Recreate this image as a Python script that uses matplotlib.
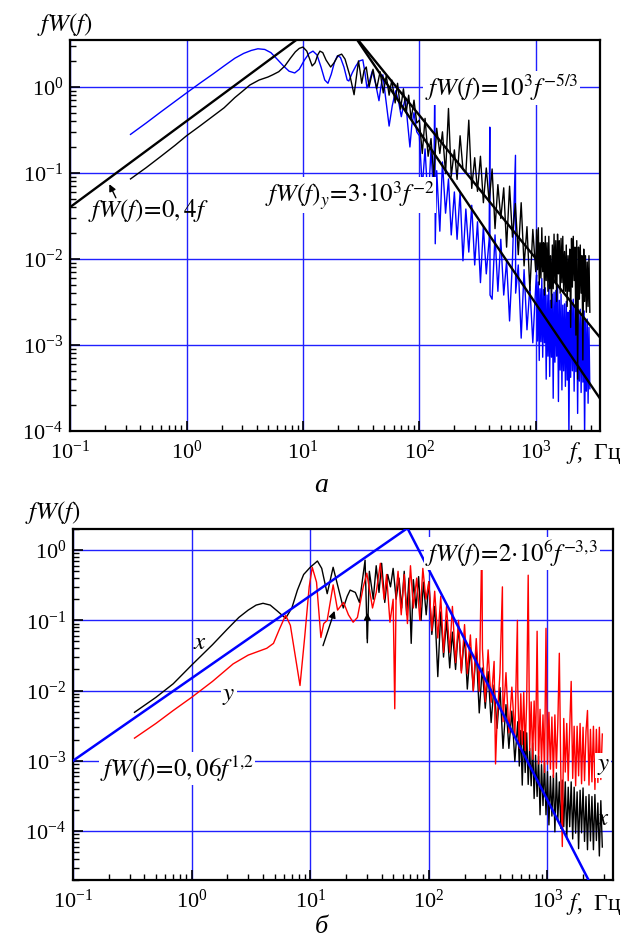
import matplotlib
matplotlib.use("Agg")
import matplotlib.pyplot as plt

plt.rcParams['font.family'] = ['Liberation Serif', 'DejaVu Serif']
plt.rcParams['mathtext.fontset'] = 'stix'

OUTPUT_IMAGE = "out.png"

# ---- panel (a): spectra ----
top_black_f = [0.33, 0.45, 0.6, 0.8, 1.0, 1.3, 1.7, 2.1, 2.6, 3.0, 3.5, 4.2, 5.0, 5.5, 6.2, 7.0, 7.8, 8.6, 9.3, 10,
               10.8, 11.5, 12, 12.7, 13.4, 14, 14.8, 15.8, 17.3, 18.5, 20, 21.5, 23, 25.5, 27.5, 28.8, 30, 31, 32, 33.5,
               35, 37, 40, 43, 46, 49, 52, 55, 58, 62, 65, 69, 73, 77, 81, 85, 90, 95,
               100, 106, 112, 119, 126, 133, 141, 150, 158, 168, 178, 188, 200, 211, 224, 237, 251, 266, 282, 299,
               316, 335, 355, 376, 398, 422, 447, 473, 501, 531, 562, 596, 631, 668, 708, 750, 794, 841, 891, 944, 1000]
top_black_y = [0.085, 0.115, 0.155, 0.21, 0.27, 0.35, 0.46, 0.57, 0.75, 0.88, 1.05, 1.2, 1.3, 1.38, 1.5, 1.75, 2.15,
               2.55, 2.8, 2.9, 2.6, 2.05, 1.75, 1.9, 2.35, 2.6, 2.5, 2.05, 1.7, 1.9, 2.3, 2.4, 2.1, 1.3, 0.81, 1.3, 2.0,
               1.5, 1.1, 1.55,
               1.7, 1.0, 1.6, 0.95, 1.5, 0.85, 1.35, 0.8, 1.2, 0.65, 1.1, 0.55, 0.95, 0.5, 0.8, 0.42, 0.7, 0.38,
               0.41, 0.168, 0.43, 0.156, 0.25, 0.091, 0.33, 0.168, 0.30, 0.098, 0.56, 0.091, 0.185, 0.084, 0.27, 0.11,
               0.10, 0.41, 0.066, 0.15, 0.061, 0.156, 0.045, 0.114, 0.046, 0.111, 0.0225, 0.073, 0.0295, 0.067, 0.0137,
               0.07, 0.0179, 0.044, 0.0112, 0.045, 0.0083, 0.0237, 0.0043, 0.022, 0.0071]

top_blue_f = [0.33, 0.45, 0.6, 0.8, 1.0, 1.3, 1.7, 2.1, 2.6, 3.1, 3.6, 4.1, 4.7, 5.3, 6.0, 6.8, 7.6, 8.5, 9.3, 10.3,
              11.3, 12.2, 13.2, 14.3, 15.4, 16.4, 17.5, 18.7, 19.8, 21, 22.5, 24, 24.8, 26.5, 28.5, 30.5, 32.7, 34,
              35.5, 37.5, 39.5, 42, 45, 46.5, 48.6, 51, 55, 58.5, 62.5, 66, 70, 73, 76, 79, 83, 86, 90, 95,
              100, 106, 112, 119, 126, 133, 136, 137, 141, 150, 158, 168, 178, 188, 200, 211, 224, 237, 251, 266, 282,
              299, 316, 335, 355, 376, 398, 403, 405, 422, 447, 473, 501, 531, 562, 596, 631, 670, 672, 708, 750, 794,
              841, 891, 944, 1000]
top_blue_y = [0.28, 0.38, 0.51, 0.68, 0.85, 1.1, 1.42, 1.75, 2.15, 2.45, 2.65, 2.77, 2.72, 2.5, 2.1, 1.75, 1.52, 1.45,
              1.6, 2.05, 2.45, 2.6, 2.35, 1.7, 1.2, 1.1, 1.4, 1.95, 2.3, 2.2, 1.7, 1.2, 1.17, 1.45, 1.75, 2.0, 2.06,
              1.5, 0.97, 1.2, 1.53, 1.1, 0.69, 0.95, 1.38, 0.8, 0.35, 0.6, 0.9, 0.7, 0.45, 0.6, 0.75, 0.4, 0.2, 0.35,
              0.5, 0.3,
              0.27, 0.067, 0.19, 0.042, 0.19, 0.048, 1.45, 0.015, 0.106, 0.021, 0.134, 0.034, 0.085, 0.019, 0.06,
              0.0169, 0.06, 0.0095, 0.038, 0.012, 0.042, 0.0085, 0.027, 0.0053, 0.024, 0.0067, 0.0169, 0.34, 0.0038,
              0.0034, 0.019, 0.0042, 0.0169, 0.0038, 0.0095, 0.0019, 0.0095, 0.16, 0.004, 0.0085, 0.0012, 0.0075,
              0.0015, 0.0048, 0.00106, 0.0048]

# dense high-frequency part of panel (a), 1-3 kHz
tail_a_f = [1017, 1035, 1053, 1072, 1090, 1109, 1128, 1148, 1168, 1189,
            1209, 1230, 1252, 1274, 1296, 1318, 1341, 1365, 1389, 1413,
            1437, 1462, 1488, 1514, 1540, 1567, 1594, 1622, 1650, 1679,
            1708, 1738, 1768, 1799, 1830, 1862, 1895, 1928, 1961, 1995,
            2030, 2065, 2101, 2138, 2175, 2213, 2252, 2291, 2331, 2371,
            2413, 2455, 2497, 2541, 2585, 2630, 2676, 2723, 2770, 2818,
            2867, 2917]
top_black_tail = [0.0218, 0.0075, 0.023, 0.005, 0.0154, 0.006, 0.023, 0.0071, 0.0154, 0.0038,
                  0.0183, 0.0056, 0.0154, 0.0042, 0.0183, 0.0045, 0.0109, 0.0027, 0.0145, 0.0045,
                  0.0194, 0.0053, 0.0163, 0.0032, 0.0194, 0.0067, 0.0163, 0.004, 0.0173, 0.0053,
                  0.0183, 0.004, 0.0122, 0.0042, 0.0145, 0.0028, 0.0109, 0.0042, 0.013, 0.0016,
                  0.0173, 0.0047, 0.0183, 0.0056, 0.0137, 0.0013, 0.0163, 0.0004, 0.0137, 0.0034,
                  0.0145, 0.004, 0.0109, 0.00067, 0.013, 0.0032, 0.0109, 0.0024, 0.0092, 0.0028,
                  0.0109, 0.0024]
top_blue_tail = [0.0065, 0.00111, 0.0054, 0.00066, 0.0045, 0.00109, 0.0059, 0.00072, 0.0044, 0.00106,
                 0.0046, 0.0004, 0.0038, 0.00074, 0.005, 0.00043, 0.0033, 0.00072, 0.0039, 0.00024,
                 0.0041, 0.00063, 0.0043, 0.00074, 0.005, 0.00022, 0.0033, 0.00051, 0.0039, 0.0003,
                 0.0029, 0.0005, 0.003, 0.00033, 0.0032, 0.00039, 0.0024, 0.00009, 0.0025, 0.00042,
                 0.0033, 0.0005, 0.0034, 0.00029, 0.0028, 0.00049, 0.0033, 0.00016, 0.0025, 0.00038,
                 0.0026, 0.00028, 0.0021, 0.00037, 0.0025, 0.00008, 0.0019, 0.00029, 0.002, 0.00021,
                 0.0016, 0.00031]

# fitted power laws (end points as drawn)
fit_04f_f, fit_04f_y = [0.1, 8.75], [0.04, 3.5]
fit_53_f, fit_53_y = [29.8, 3550], [3.5, 0.00123]
fit_2_f, fit_2_y = [29.3, 3550], [3.5, 0.00024]

# ---- panel (б) ----
bot_x_f = [0.33, 0.5, 0.7, 1.0, 1.5, 2.0, 2.5, 3.0, 3.5, 4.0, 4.6, 5.3, 6.2, 7.0, 7.8, 8.8, 10, 11.5, 12.5, 13.9,
           15.6, 17, 19, 20.5, 21.7, 24, 26, 29, 30.3, 31.5,
           34, 36, 38, 40, 42.5, 45, 47.5, 50, 53, 56, 59, 62, 65, 68, 71, 74, 78, 82, 86, 90, 95,
           100, 106, 112, 119, 126, 133, 141, 150, 158, 168, 178, 188, 200, 211, 224, 237, 251, 266, 282, 299,
           316, 335, 355, 376, 398, 422, 447, 473, 501, 531]
bot_x_y = [0.0049, 0.008, 0.0125, 0.023, 0.045, 0.075, 0.11, 0.14, 0.165, 0.175, 0.165, 0.135, 0.107, 0.15, 0.27,
           0.45, 0.57, 0.7, 0.55, 0.24, 0.57, 0.32, 0.15, 0.22, 0.27, 0.25, 0.18, 0.72, 0.048, 0.5,
           0.2, 0.6, 0.25, 0.65, 0.18, 0.45, 0.3, 0.55, 0.2, 0.4, 0.15, 0.5, 0.12, 0.4, 0.047, 0.38, 0.15, 0.42, 0.1,
           0.35, 0.12,
           0.355, 0.063, 0.158, 0.0158, 0.132, 0.03, 0.1, 0.021, 0.068, 0.02, 0.083, 0.019, 0.06, 0.0105, 0.041, 0.01,
           0.039, 0.0048, 0.021, 0.0056, 0.0186, 0.0035, 0.012, 0.0029, 0.011, 0.0015, 0.0063, 0.0015, 0.0051,
           0.00098]

bot_y_f = [0.33, 0.5, 0.7, 1.0, 1.5, 2.24, 3.0, 4.3, 4.9, 5.5, 6.2, 6.8, 7.5, 8.2, 9.0, 9.8, 10.4, 11.3, 12.3, 13.0,
           13.9, 15.6, 17, 19.1, 21, 23, 25, 28, 30, 33.5, 36, 39, 42, 44, 47, 50, 51.6, 53,
           55, 58.5, 62, 66, 70, 74, 79, 84, 89, 94.5,
           100, 106, 112, 119, 126, 133, 141, 150, 158, 168, 178, 188, 200, 211, 224, 237, 251, 266, 280, 283, 299,
           316, 335, 355, 365, 376, 398, 417, 422, 447, 473, 501, 531, 558]
bot_y_y = [0.0021, 0.0034, 0.0052, 0.008, 0.0135, 0.024, 0.032, 0.04, 0.047, 0.075, 0.118, 0.085, 0.03, 0.0118, 0.06,
           0.3, 0.57, 0.35, 0.057, 0.09, 0.1, 0.32, 0.14, 0.18, 0.12, 0.094, 0.11, 0.3, 0.47, 0.15, 0.25, 0.65, 0.2,
           0.45, 0.094, 0.2, 0.0055, 0.25,
           0.5, 0.12, 0.45, 0.09, 0.6, 0.15, 0.4, 0.1, 0.55, 0.2,
           0.355, 0.071, 0.26, 0.056, 0.22, 0.035, 0.158, 0.035, 0.158, 0.025, 0.1, 0.0178, 0.087, 0.0174, 0.062,
           0.0098, 0.055, 0.0098, 1.5, 0.039, 0.0069, 0.038, 0.0068, 0.026, 0.0009, 0.0037, 0.018, 0.3, 0.0036,
           0.018, 0.0025, 0.0112, 0.0022, 0.1]

# dense high-frequency part of panel (б), 0.56-2.9 kHz
tail_b_f = [562, 579, 596, 613, 631, 649, 668, 688, 708, 729,
            750, 772, 794, 818, 841, 866, 891, 917, 944, 972,
            1000, 1029, 1059, 1090, 1122, 1155, 1189, 1223, 1259, 1296,
            1334, 1372, 1413, 1454, 1496, 1540, 1585, 1632, 1679, 1728,
            1778, 1830, 1884, 1939, 1995, 2054, 2113, 2175, 2239, 2304,
            2371, 2441, 2512, 2585, 2661, 2738, 2818, 2900]
bot_y_tail = [0.011, 0.0015, 0.009, 0.0017, 0.0094, 0.0014, 0.0069, 0.44, 0.0014, 0.0069,
              0.00105, 0.0071, 0.0014, 0.07, 0.0009, 0.0054, 0.00093, 0.0045, 0.00068, 0.077,
              0.00089, 0.0049, 0.00076, 0.0042, 0.00058, 0.0045, 0.00078, 0.0034, 0.034, 0.00065,
              0.00006, 0.004, 0.00069, 0.0034, 0.00052, 0.0029, 0.0135, 0.00056, 0.0031, 0.00044,
              0.0031, 0.00061, 0.0034, 0.00047, 0.003, 0.00052, 0.0026, 0.0052, 0.00045, 0.0028,
              0.0005, 0.0031, 0.00039, 0.0028, 0.00049, 0.003, 0.00054, 0.0024]
bot_x_tail = [0.0036, 0.00084, 0.0027, 0.00045, 0.0026, 0.00068, 0.0025, 0.00046, 0.0015, 0.00044,
              0.0018, 0.00029, 0.0012, 0.00031, 0.00116, 0.00017, 0.00088, 0.00023, 0.00094, 0.00017,
              0.0007, 0.000122, 0.0006, 0.000163, 0.00063, 0.000097, 0.00067, 0.000145, 0.0005, 0.000109,
              0.00053, 0.000115, 0.0005, 0.000077, 0.00042, 0.000115, 0.0005, 0.000077, 0.00042, 0.000093,
              0.00036, 0.000056, 0.00038, 0.000094, 0.00041, 0.000071, 0.00031, 0.000054, 0.00033, 0.000072,
              0.00031, 0.000054, 0.00033, 0.000073, 0.00025, 0.000044, 0.00027, 0.000059]

# broken power law: 0,06 f^1,2 up to the corner, then 2*10^6 f^-3,3
fit_b_f, fit_b_y = [0.1, 66, 2220], [0.001, 2.06, 0.00002]

BLUE = '#0000ff'
GRID = '#2020ff'
LABEL_BOX = dict(facecolor='white', edgecolor='none', pad=1.0)


def style_axes(ax, xlim, ylim):
    ax.set_xscale('log')
    ax.set_yscale('log')
    ax.set_xlim(*xlim)
    ax.set_ylim(*ylim)
    ax.set_axisbelow(True)
    ax.grid(True, which='major', color=GRID, lw=1.0)
    ax.tick_params(which='both', direction='in', top=False, right=False, labelsize=16)
    ax.tick_params(which='major', length=7, width=1.2, pad=5)
    ax.tick_params(axis='x', which='major', pad=7)
    ax.tick_params(which='minor', length=4, width=1.0)
    for sp in ax.spines.values():
        sp.set_linewidth(1.6)


fig = plt.figure(figsize=(6.32, 9.42), dpi=100)

# ---------- panel a ----------
ax1 = fig.add_axes([0.111, 0.5425, 0.838, 0.415])
style_axes(ax1, (0.1, 3550), (1e-4, 3.5))
ax1.plot(top_blue_f + tail_a_f, top_blue_y + top_blue_tail, color=BLUE, lw=1.0, zorder=2)
ax1.plot(top_black_f + tail_a_f, top_black_y + top_black_tail, color='black', lw=1.0, zorder=3)
for fx, fy in [(fit_04f_f, fit_04f_y), (fit_53_f, fit_53_y), (fit_2_f, fit_2_y)]:
    ax1.plot(fx, fy, color='black', lw=1.7, zorder=4)

ax1.text(0.143, 0.037, r'$fW(f)\!=\!0,4f$', fontsize=18, ha='left', va='center', zorder=5)
ax1.annotate('', xy=(0.212, 0.079), xytext=(0.253, 0.048),
             arrowprops=dict(arrowstyle='-|>', color='black', lw=1.0, mutation_scale=10), zorder=5)
ax1.text(4.72, 0.055, r'$fW(f)_y\!=\!3{\cdot}10^3f^{-2}$', fontsize=18, ha='left', va='center',
         bbox=LABEL_BOX, zorder=5)
ax1.text(111, 0.97, r'$fW(f)\!=\!10^3f^{-5/3}$', fontsize=18, ha='left', va='center',
         bbox=LABEL_BOX, zorder=5)

# ---------- panel б ----------
ax2 = fig.add_axes([0.1155, 0.0658, 0.854, 0.3726])
style_axes(ax2, (0.1, 3550), (2e-5, 2.0))
ax2.plot(bot_x_f + tail_b_f, bot_x_y + bot_x_tail, color='black', lw=1.0, zorder=2)
ax2.plot(bot_y_f + tail_b_f, bot_y_y + bot_y_tail, color='#ff0000', lw=1.0, zorder=3)
ax2.plot(fit_b_f, fit_b_y, color=BLUE, lw=1.8, zorder=4)

ax2.annotate('', xy=(16.3, 0.149), xytext=(12.6, 0.04),
             arrowprops=dict(arrowstyle='-|>', color='black', lw=1.0, mutation_scale=10), zorder=5)
ax2.annotate('', xy=(30.3, 0.14), xytext=(30.3, 0.05),
             arrowprops=dict(arrowstyle='-|>', color='black', lw=1.0, mutation_scale=10), zorder=5)

ax2.text(93.5, 0.9, r'$fW(f)\!=\!2{\cdot}10^6f^{-3{,}3}$', fontsize=18, ha='left', va='center',
         bbox=LABEL_BOX, zorder=6)
ax2.text(0.169, 7.7e-4, r'$fW(f)\!=\!0,06f^{1{,}2}$', fontsize=18, ha='left', va='center',
         bbox=LABEL_BOX, zorder=6)
ax2.text(1.18, 0.048, r'$x$', fontsize=18, ha='center', va='center', zorder=6)
ax2.text(2.07, 8.5e-3, r'$y$', fontsize=18, ha='center', va='center', bbox=LABEL_BOX, zorder=6)
ax2.text(2950, 8.5e-4, r'$y$', fontsize=18, ha='center', va='center', bbox=LABEL_BOX, zorder=6)
ax2.text(2950, 1.5e-4, r'$x$', fontsize=18, ha='center', va='center', zorder=6)

# ---------- axis titles and panel letters ----------
fig.text(37 / 632, 1 - 24 / 942, r'$fW(f)$', fontsize=18, ha='left', va='center')
fig.text(25 / 632, 1 - 513 / 942, r'$fW(f)$', fontsize=18, ha='left', va='center')
fig.text(566 / 632, 1 - 453 / 942, r'$f$,  Гц', fontsize=17, ha='left', va='center')
fig.text(566 / 632, 1 - 904 / 942, r'$f$,  Гц', fontsize=17, ha='left', va='center')
fig.text(321 / 632, 1 - 486 / 942, 'а', fontsize=20, style='italic', ha='center', va='center')
fig.text(321 / 632, 1 - 927 / 942, 'б', fontsize=19, style='italic', ha='center', va='center')

fig.savefig(OUTPUT_IMAGE, dpi=100)
